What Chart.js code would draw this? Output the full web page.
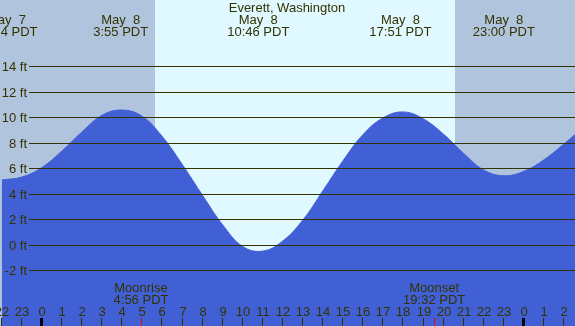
<!DOCTYPE html>
<html>
<head>
<meta charset="utf-8">
<script src="https://cdn.jsdelivr.net/npm/chart.js@4.4.1/dist/chart.umd.min.js"></script>
<style>
  html, body { margin: 0; padding: 0; background: #b0c4de; }
  canvas { display: block; }
</style>
</head>
<body>
<canvas id="tideChart" width="575" height="326"></canvas>
<script>
// hours from midnight May 8 (negative = May 7), tide height in ft
let hours   = [-2, -1, 0, 1, 2, 3, 4, 5, 6, 7, 8, 9, 10, 11, 12, 13, 14, 15, 16, 17, 18, 19, 20, 21, 22, 23, 24, 25, 26, 27];
let heights = [5.12, 5.35, 6.1, 7.4, 8.9, 10.2, 10.6, 10.1, 8.5, 6.3, 3.9, 1.6, -0.1, -0.45, 0.35, 2.0, 4.3, 6.65, 8.7, 10.0, 10.45, 9.9, 8.7, 7.2, 5.9, 5.45, 5.8, 6.7, 7.95, 9.3];

let hourLabels = ['22', '23', '0', '1', '2', '3', '4', '5', '6', '7', '8', '9', '10', '11', '12', '13', '14', '15', '16', '17', '18', '19', '20', '21', '22', '23', '0', '1', '2', '3'];
let ftTicks = [-2, 0, 2, 4, 6, 8, 10, 12, 14];

// high / low tide events
let tideTimes = [-1.77, 3.92, 10.77, 17.85, 23.0];
let tideDates = ['May  7', 'May  8', 'May  8', 'May  8', 'May  8'];
let tideClock = ['22:14 PDT', '3:55 PDT', '10:46 PDT', '17:51 PDT', '23:00 PDT'];

// sun and moon
let sunrise = 5.63;
let sunset = 20.57;
let moonTimes = [4.93, 19.53];
let moonNames = ['Moonrise', 'Moonset'];
let moonClock = ['4:56 PDT', '19:32 PDT'];

let title = 'Everett, Washington';

let NIGHT = '#b0c4de';
let DAY = '#e0f8ff';
let WATER = '#4260d6';
let INK = '#333300';
let FONT = '13px "Liberation Sans", Arial, sans-serif';

let tidePlugin = {
    id: 'tideDecor',
    beforeDatasetsDraw: function (chart) {
        let ctx = chart.ctx;
        let xs = chart.scales.x;
        let area = chart.chartArea;
        ctx.save();
        ctx.fillStyle = NIGHT;
        ctx.fillRect(area.left, area.top, area.right - area.left, area.bottom - area.top);
        let x1 = Math.round(xs.getPixelForValue(sunrise));
        let x2 = Math.round(xs.getPixelForValue(sunset));
        ctx.fillStyle = DAY;
        ctx.fillRect(x1, area.top, x2 - x1, area.bottom - area.top);
        ctx.restore();
    },
    afterDatasetsDraw: function (chart) {
        let ctx = chart.ctx;
        let xs = chart.scales.x;
        let ys = chart.scales.y;
        let area = chart.chartArea;
        ctx.save();
        ctx.font = FONT;
        ctx.fillStyle = INK;

        // height grid + labels
        ctx.strokeStyle = INK;
        ctx.lineWidth = 1;
        ctx.textAlign = 'right';
        ctx.textBaseline = 'middle';
        ftTicks.forEach(function (v) {
            let y = Math.floor(ys.getPixelForValue(v)) + 0.5;
            ctx.beginPath();
            ctx.moveTo(29, y);
            ctx.lineTo(area.right, y);
            ctx.stroke();
            ctx.fillText(v + ' ft', 27, y + 1);
        });

        // title and tide events
        ctx.textAlign = 'center';
        ctx.textBaseline = 'alphabetic';
        ctx.fillText(title, 287, 12);
        tideTimes.forEach(function (t, i) {
            let x = xs.getPixelForValue(t);
            ctx.fillText(tideDates[i], x, 24);
            ctx.fillText(tideClock[i], x, 36);
        });

        // moon labels
        moonTimes.forEach(function (t, i) {
            let x = xs.getPixelForValue(t);
            ctx.fillText(moonNames[i], x, 292);
            ctx.fillText(moonClock[i], x, 304);
        });

        // hour axis
        hours.forEach(function (h, i) {
            let x = Math.round(xs.getPixelForValue(h));
            ctx.fillStyle = INK;
            ctx.fillText(hourLabels[i], x, 316);
            if (hourLabels[i] === '0') {
                ctx.fillStyle = '#000000';
                ctx.fillRect(x - 2, 318, 3, 8);
            } else {
                ctx.fillRect(x - 1, 318, 1, 8);
            }
        });
        ctx.fillStyle = '#ff0000';
        moonTimes.forEach(function (t) {
            let x = Math.round(xs.getPixelForValue(t));
            ctx.fillRect(x, 318, 1, 8);
        });
        ctx.restore();
    }
};

let points = hours.map(function (h, i) {
    return { x: h, y: heights[i] };
});

let tideChart = new Chart(document.getElementById('tideChart'), {
    type: 'line',
    data: {
        datasets: [{
            data: points,
            borderColor: WATER,
            borderWidth: 1,
            backgroundColor: WATER,
            fill: 'start',
            pointRadius: 0,
            tension: 0.4
        }]
    },
    options: {
        responsive: false,
        animation: false,
        devicePixelRatio: 1,
        layout: { padding: 0 },
        scales: {
            x: { type: 'linear', min: -2.092, max: 26.544, display: false },
            y: { min: -6.32, max: 19.22, display: false }
        },
        plugins: {
            legend: { display: false },
            tooltip: { enabled: false }
        }
    },
    plugins: [tidePlugin]
});
</script>
</body>
</html>
